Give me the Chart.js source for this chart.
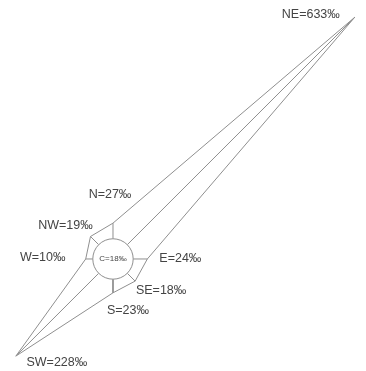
<!DOCTYPE html>
<html>
<head>
<meta charset="utf-8">
<script src="https://cdn.jsdelivr.net/npm/chart.js@4/dist/chart.umd.min.js"></script>
<style>
html,body{margin:0;padding:0;background:#fff;}
#wrap{position:relative;width:366px;height:371px;}
</style>
</head>
<body>
<div id="wrap"><canvas id="c"></canvas></div>
<script>
// Wind directions (clockwise from north) and frequencies in per mille
const directions = ["N", "NE", "E", "SE", "S", "SW", "W", "NW"];
const frequencies = [27, 633, 24, 18, 23, 228, 10, 19];
const calmLabel = "C";
const calmValue = 18;
const unit = "‰";

// style / layout settings
const baseRadius = 44;     // radius (data units) where value 0 sits
const circleRadius = 40;   // calm circle radius (data units)
const lineColor = "#8f8f8f";
const textColor = "#444444";
// label offsets (pixels) from each direction's end point
const labelOffsets = [[-3,-29],[-44,-3],[33,0],[26,9],[15,18],[41,6],[-43,-1],[-25,-11]];

function polar(r, i) {
  const a = i * Math.PI / 4;
  return { x: r * Math.sin(a), y: r * Math.cos(a) };
}

const outline = frequencies.map((v, i) => polar(baseRadius + v, i));
outline.push(outline[0]);

const datasets = [{
  data: outline,
  showLine: true,
  borderColor: lineColor,
  borderWidth: 1,
  pointRadius: 0,
  fill: false,
  clip: false
}];
frequencies.forEach((v, i) => {
  datasets.push({
    data: [polar(circleRadius, i), polar(baseRadius + v, i)],
    showLine: true,
    borderColor: lineColor,
    borderWidth: 1,
    pointRadius: 0,
    fill: false,
    clip: false
  });
});

const decor = {
  id: "decor",
  afterDatasetsDraw(chart) {
    const ctx = chart.ctx;
    const xs = chart.scales.x, ys = chart.scales.y;
    const cx = xs.getPixelForValue(0), cy = ys.getPixelForValue(0);
    const rpx = xs.getPixelForValue(circleRadius) - cx;
    ctx.save();
    ctx.beginPath();
    ctx.arc(cx, cy, rpx, 0, Math.PI * 2);
    ctx.fillStyle = "#fff";
    ctx.fill();
    ctx.strokeStyle = lineColor;
    ctx.lineWidth = 1;
    ctx.stroke();
    ctx.fillStyle = textColor;
    ctx.textAlign = "center";
    ctx.textBaseline = "middle";
    ctx.font = "8px 'Liberation Sans', Arial, sans-serif";
    ctx.fillText(calmLabel + "=" + calmValue + unit, cx, cy);
    ctx.font = "12.5px 'Liberation Sans', Arial, sans-serif";
    frequencies.forEach((v, i) => {
      const p = polar(baseRadius + v, i);
      const px = xs.getPixelForValue(p.x) + labelOffsets[i][0];
      const py = ys.getPixelForValue(p.y) + labelOffsets[i][1];
      ctx.fillText(directions[i] + "=" + v + unit, px, py);
    });
    ctx.restore();
  }
};

new Chart(document.getElementById("c"), {
  type: "scatter",
  data: { datasets },
  options: {
    responsive: true,
    maintainAspectRatio: false,
    animation: false,
    layout: { padding: 0 },
    plugins: { legend: { display: false }, tooltip: { enabled: false } },
    scales: {
      x: { type: "linear", min: -223.7, max: 500.9, display: false },
      y: { type: "linear", min: -221.8, max: 512.8, display: false }
    }
  },
  plugins: [decor]
});
</script>
</body>
</html>
